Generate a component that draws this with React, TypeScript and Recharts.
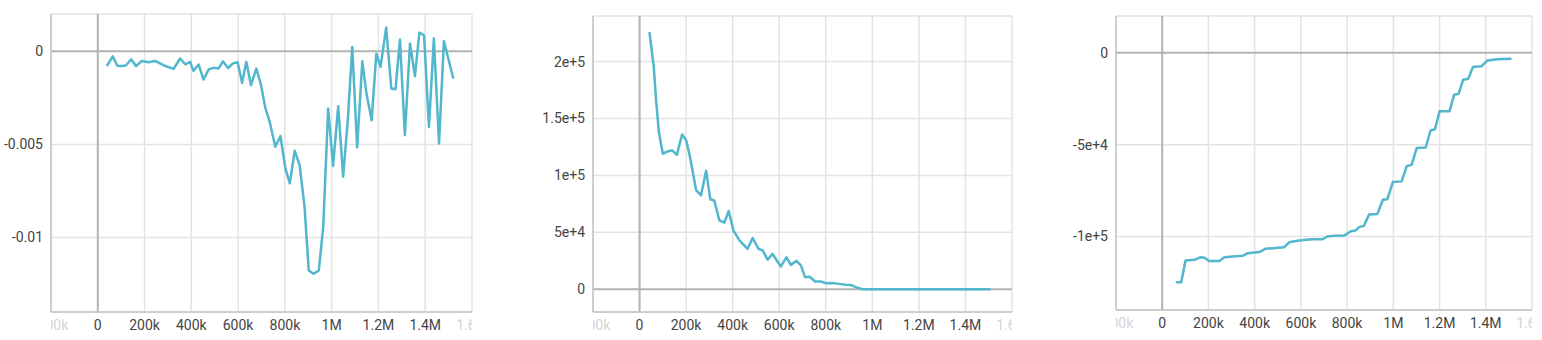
import { LineChart, Line, XAxis, YAxis, CartesianGrid, ReferenceLine } from 'recharts'

// x-axis steps shared by all three panels
const xTicks = [-200000, 0, 200000, 400000, 600000, 800000, 1000000, 1200000, 1400000, 1600000]

// panel 1
const steps1 = [
  41000, 64000, 84000, 107000, 121000, 143000, 164000, 188000, 217000, 245000,
  281000, 324000, 352000, 374000, 395000, 409000, 431000, 452000, 474000, 495000,
  516000, 535000, 557000, 578000, 598000, 617000, 635000, 655000, 678000, 698000,
  717000, 735000, 759000, 781000, 802000, 821000, 842000, 863000, 884000, 902000,
  923000, 945000, 964000, 985000, 1006000, 1028000, 1049000, 1069000, 1088000, 1109000,
  1131000, 1149000, 1171000, 1191000, 1209000, 1233000, 1255000, 1273000, 1292000, 1313000,
  1335000, 1356000, 1375000, 1395000, 1416000, 1437000, 1459000, 1480000, 1519000,
]
const values1 = [
  -0.00075, -0.00027, -0.00079, -0.00079, -0.00075, -0.00043, -0.0008, -0.00052, -0.00059, -0.00052,
  -0.00075, -0.00095, -0.00039, -0.0007, -0.00057, -0.00105, -0.00071, -0.00152, -0.00098, -0.00089,
  -0.00093, -0.00054, -0.0009, -0.00065, -0.00059, -0.0017, -0.00057, -0.00182, -0.00093, -0.00182,
  -0.00307, -0.00379, -0.00513, -0.00455, -0.00629, -0.00709, -0.00534, -0.00611, -0.00834, -0.01177,
  -0.01195, -0.01177, -0.00941, -0.00307, -0.00616, -0.00295, -0.00673, -0.0037, 0.00023, -0.00516,
  -0.00054, -0.0023, -0.0037, -0.00013, -0.00084, 0.00127, -0.002, -0.00204, 0.00063, -0.0045,
  0.00041, -0.00134, 0.001, 0.00086, -0.00406, 0.00068, -0.00495, 0.00055, -0.00141,
]
const yTicks1 = [-0.01, -0.005, 0]

// panel 2
const steps2 = [
  43000, 61000, 71000, 83000, 100000, 121000, 140000, 160000, 183000, 200000,
  217000, 243000, 264000, 286000, 304000, 321000, 343000, 364000, 383000, 403000,
  429000, 464000, 486000, 511000, 529000, 550000, 571000, 607000, 631000, 650000,
  674000, 693000, 711000, 731000, 754000, 779000, 800000, 829000, 857000, 886000,
  907000, 929000, 957000, 1000000, 1100000, 1200000, 1300000, 1400000, 1503000,
]
const values2 = [
  225000, 195500, 166000, 138000, 119000, 121000, 122000, 118000, 136000, 131000,
  116000, 87000, 82500, 104000, 79000, 78000, 60500, 58400, 68700, 51700,
  43000, 35500, 45000, 35500, 34000, 26000, 31000, 20000, 28000, 21400,
  25000, 21000, 10600, 11000, 6800, 6800, 5300, 5500, 4700, 4000,
  3800, 1800, 0, 0, 0, 0, 0, 0, 0,
]
const yTicks2 = [0, 50000, 100000, 150000, 200000]

// panel 3
const steps3 = [
  63000, 82000, 101000, 140000, 164000, 183000, 204000, 247000, 269000, 305000,
  348000, 370000, 420000, 446000, 492000, 528000, 550000, 578000, 622000, 650000,
  694000, 715000, 744000, 787000, 816000, 837000, 852000, 873000, 895000, 931000,
  955000, 974000, 998000, 1036000, 1058000, 1079000, 1101000, 1140000, 1161000, 1180000,
  1200000, 1243000, 1263000, 1283000, 1302000, 1324000, 1344000, 1381000, 1407000, 1449000,
  1507000,
]
const values3 = [
  -124900, -124900, -113000, -112700, -111300, -111600, -113400, -113400, -111300, -110900,
  -110500, -109100, -108500, -106700, -106200, -105800, -103100, -102500, -101800, -101500,
  -101500, -100000, -99600, -99500, -97100, -96700, -94900, -94200, -88000, -87700,
  -80000, -79700, -70400, -70000, -61700, -61000, -51900, -51500, -42300, -41600,
  -31900, -31800, -22900, -22300, -14700, -14200, -7800, -7400, -4200, -3600,
  -3300,
]
const yTicks3 = [-100000, -50000, 0]

const LINE_COLOR = '#52b6cc'
const TEXT_COLOR = '#444'
const FONT = 'Roboto, sans-serif'

const formatStep = (v: number): string => {
  if (v === 0) return '0'
  const a = Math.abs(v)
  const s = v < 0 ? '-' : ''
  if (a >= 1000000) return `${s}${+(a / 1000000).toFixed(1)}M`
  return `${s}${a / 1000}k`
}

const formatSci = (v: number): string => {
  if (v === 0) return '0'
  const exp = Math.floor(Math.log10(Math.abs(v)))
  const mant = +(v / Math.pow(10, exp)).toFixed(2)
  return `${mant}e+${exp}`
}

const formatPlain = (v: number): string => (v === 0 ? '0' : String(v))

const toRows = (steps: number[], values: number[]) =>
  steps.map((step, i) => ({ step, value: values[i] }))

// x tick: edge labels are faded and clipped to the plot
const makeXTick = (id: string, left: number, right: number) =>
  function XTick(props: any) {
    const { x, y, payload } = props
    const v = payload.value as number
    const edge = v === xTicks[0] || v === xTicks[xTicks.length - 1]
    const clipId = `${id}-clip-${v}`
    return (
      <g>
        {edge && (
          <defs>
            <clipPath id={clipId}>
              <rect x={left} y={y - 5} width={right - left} height={30} />
            </clipPath>
          </defs>
        )}
        <text
          x={x}
          y={y}
          dy="0.71em"
          textAnchor="middle"
          fill={edge ? '#d4d4d4' : TEXT_COLOR}
          fontSize={14}
          fontFamily={FONT}
          clipPath={edge ? `url(#${clipId})` : undefined}
        >
          {formatStep(v)}
        </text>
      </g>
    )
  }

interface PanelProps {
  id: string
  rows: { step: number; value: number }[]
  left: number
  width: number
  yAxisWidth: number
  marginRight: number
  marginTop: number
  xAxisHeight: number
  yDomain: [number, number]
  yTicks: number[]
  yFormat: (v: number) => string
}

function Panel({
  id,
  rows,
  left,
  width,
  yAxisWidth,
  marginRight,
  marginTop,
  xAxisHeight,
  yDomain,
  yTicks,
  yFormat,
}: PanelProps) {
  const plotLeft = yAxisWidth
  const plotRight = width - marginRight
  return (
    <div style={{ position: 'absolute', left, top: 0 }}>
      <LineChart
        width={width}
        height={340}
        data={rows}
        margin={{ top: marginTop, right: marginRight, left: 0, bottom: 0 }}
      >
        <CartesianGrid stroke="#e3e3e3" strokeWidth={1.5} />
        <XAxis
          dataKey="step"
          type="number"
          domain={[xTicks[0], xTicks[xTicks.length - 1]]}
          ticks={xTicks}
          interval={0}
          allowDataOverflow
          height={xAxisHeight}
          axisLine={{ stroke: '#c4c4c4', strokeWidth: 1.5 }}
          tickLine={false}
          tick={makeXTick(id, plotLeft, plotRight)}
        />
        <YAxis
          type="number"
          domain={yDomain}
          ticks={yTicks}
          interval={0}
          allowDataOverflow
          width={yAxisWidth}
          axisLine={{ stroke: '#c4c4c4', strokeWidth: 1.5 }}
          tickLine={false}
          tickFormatter={yFormat}
          tick={{ fill: TEXT_COLOR, fontSize: 14, fontFamily: FONT }}
        />
        <ReferenceLine x={0} stroke="#b4b4b4" strokeWidth={2} />
        <ReferenceLine y={0} stroke="#b4b4b4" strokeWidth={2} />
        <Line
          type="linear"
          dataKey="value"
          stroke={LINE_COLOR}
          strokeWidth={2.5}
          strokeLinejoin="round"
          strokeLinecap="round"
          dot={false}
          isAnimationActive={false}
        />
      </LineChart>
    </div>
  )
}

export default function App() {
  return (
    <div
      style={{
        position: 'absolute',
        left: 0,
        top: 0,
        width: 1542,
        height: 340,
        background: '#fff',
        overflow: 'hidden',
      }}
    >
      <Panel
        id="p1"
        rows={toRows(steps1, values1)}
        left={0}
        width={520}
        yAxisWidth={51}
        marginRight={48}
        marginTop={14}
        xAxisHeight={28}
        yDomain={[-0.014, 0.002]}
        yTicks={yTicks1}
        yFormat={formatPlain}
      />
      <Panel
        id="p2"
        rows={toRows(steps2, values2)}
        left={520}
        width={520}
        yAxisWidth={73}
        marginRight={28}
        marginTop={16}
        xAxisHeight={28}
        yDomain={[-20000, 240000]}
        yTicks={yTicks2}
        yFormat={formatSci}
      />
      <Panel
        id="p3"
        rows={toRows(steps3, values3)}
        left={1030}
        width={512}
        yAxisWidth={86}
        marginRight={10}
        marginTop={16}
        xAxisHeight={30}
        yDomain={[-140000, 20000]}
        yTicks={yTicks3}
        yFormat={formatSci}
      />
    </div>
  )
}
